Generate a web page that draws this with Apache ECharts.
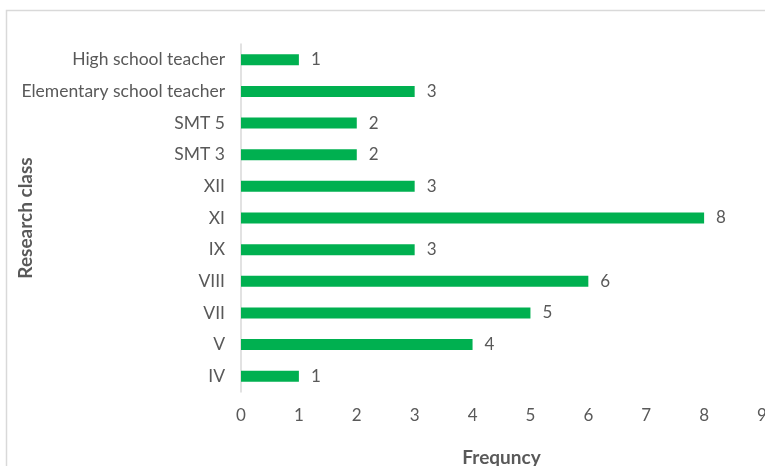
<!doctype html>
<html lang="en">
<head>
    <meta charset="UTF-8">
    <title>Research class frequency</title>
    <style>
        html, body { margin: 0; padding: 0; background: #fff; }
    </style>
</head>
<body>
<div id="myChart" style="width: 765px;height: 466px"></div>
<script src="https://cdn.jsdelivr.net/npm/echarts@6/dist/echarts.min.js"></script>
<script>
    // categories listed bottom -> top
    var categories = ['IV', 'V', 'VII', 'VIII', 'IX', 'XI', 'XII', 'SMT 3', 'SMT 5',
        'Elementary school teacher', 'High school teacher'];
    var frequency = [1, 4, 5, 6, 3, 8, 3, 2, 2, 3, 1];
    var xTicks = [0, 1, 2, 3, 4, 5, 6, 7, 8, 9];

    var labelColor = '#595959';
    var fontFam = 'Lato, "Liberation Sans", sans-serif';

    var myChart = echarts.init(document.getElementById('myChart'));

    var option = {
        backgroundColor: '#fff',
        animation: false,
        textStyle: {fontFamily: fontFam},
        graphic: [{
            type: 'rect',
            shape: {x: 6.5, y: 10.5, width: 900, height: 600},
            style: {fill: 'none', stroke: '#d9d9d9', lineWidth: 1.5},
            silent: true
        }],
        grid: {
            left: 241,
            right: 3,
            top: 44,
            bottom: 74,
            containLabel: false,
            outerBoundsMode: 'none'
        },
        xAxis: {
            type: 'value',
            min: xTicks[0],
            max: xTicks[xTicks.length - 1],
            interval: 1,
            name: 'Frequncy',
            nameLocation: 'middle',
            nameGap: 56,
            nameMoveOverlap: false,
            nameTextStyle: {color: labelColor, fontSize: 19, fontWeight: 'bold', fontFamily: fontFam},
            axisLine: {show: false},
            axisTick: {show: false},
            splitLine: {show: false},
            axisLabel: {color: labelColor, fontSize: 17, margin: 15, fontFamily: fontFam}
        },
        yAxis: {
            type: 'category',
            data: categories,
            name: 'Research class',
            nameLocation: 'middle',
            nameGap: 206,
            nameRotate: 90,
            nameMoveOverlap: false,
            nameTextStyle: {color: labelColor, fontSize: 19, fontWeight: 'bold', fontFamily: fontFam},
            axisLine: {show: true, lineStyle: {color: '#d9d9d9', width: 1.5}},
            axisTick: {show: false},
            axisLabel: {color: labelColor, fontSize: 17.5, margin: 16, fontFamily: fontFam}
        },
        series: [{
            type: 'bar',
            data: frequency,
            barWidth: 11,
            itemStyle: {color: '#00b050'},
            label: {
                show: true,
                position: 'right',
                distance: 12,
                color: labelColor,
                fontSize: 17,
                fontFamily: fontFam
            }
        }]
    };

    myChart.setOption(option);
</script>
</body>
</html>
